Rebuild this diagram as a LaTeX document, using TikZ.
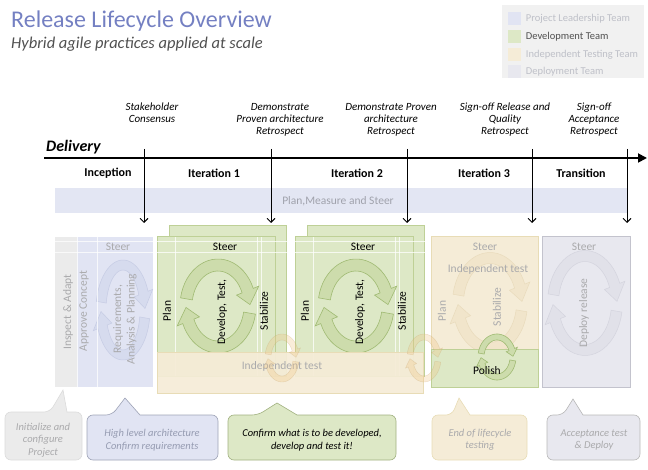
\documentclass[tikz,border=0pt]{standalone}
\usepackage{fontspec}
\setmainfont{Carlito}
\usetikzlibrary{arrows.meta,positioning}

\definecolor{titleblue}{RGB}{116,128,194}
\definecolor{subgray}{RGB}{80,80,80}
\definecolor{legendbg}{RGB}{241,241,241}
\definecolor{legfade}{RGB}{190,192,200}
\definecolor{planfill}{RGB}{227,230,243}
\definecolor{bandtext}{RGB}{160,162,172}
\definecolor{leadfill}{RGB}{225,228,243}
\definecolor{greyfill}{RGB}{235,235,235}
\definecolor{devfill}{RGB}{221,232,198}
\definecolor{devline}{RGB}{190,208,150}
\definecolor{cycfill}{RGB}{205,220,172}
\definecolor{cycline}{RGB}{160,186,115}
\definecolor{testfill}{RGB}{245,236,215}
\definecolor{testline}{RGB}{232,220,182}
\definecolor{depfill}{RGB}{232,232,239}
\definecolor{depline}{RGB}{195,195,205}
\definecolor{fadetext}{RGB}{170,170,172}
\definecolor{orangering}{RGB}{240,196,130}
\definecolor{leadcycfill}{RGB}{214,219,238}
\definecolor{leadcycline}{RGB}{198,204,228}
\definecolor{testcycfill}{RGB}{241,229,203}
\definecolor{testcycline}{RGB}{233,219,188}
\definecolor{depcycfill}{RGB}{225,225,233}
\definecolor{depcycline}{RGB}{212,212,222}
\definecolor{calltext}{RGB}{150,156,178}

% two curved arrows round an ellipse: centre x, centre y, x radius, y radius, band, style
\newcommand{\cyclearrows}[6]{%
  \pgfmathsetmacro\cyOx{#3+#5/2}\pgfmathsetmacro\cyOy{#4+#5/2}%
  \pgfmathsetmacro\cyIx{#3-#5/2}\pgfmathsetmacro\cyIy{#4-#5/2}%
  \pgfmathsetmacro\cyHx{#3+#5}\pgfmathsetmacro\cyHy{#4+#5}%
  \pgfmathsetmacro\cyJx{#3-#5}\pgfmathsetmacro\cyJy{#4-#5}%
  \foreach \s/\e/\h in {190/338/358, 10/158/178}{%
    \filldraw[#6] plot[domain=\s:\e,samples=24] ({#1+\cyOx*cos(\x)},{#2+\cyOy*sin(\x)})
      -- ({#1+\cyHx*cos(\e)},{#2+\cyHy*sin(\e)}) -- ({#1+#3*cos(\h)},{#2+#4*sin(\h)})
      -- ({#1+\cyJx*cos(\e)},{#2+\cyJy*sin(\e)})
      -- plot[domain=\e:\s,samples=24] ({#1+\cyIx*cos(\x)},{#2+\cyIy*sin(\x)}) -- cycle;
  }%
}

\begin{document}
\begin{tikzpicture}[x=1pt,y=-1pt,
  every node/.style={inner sep=1pt},
  mile/.style={font=\fontsize{11}{12}\selectfont\itshape, align=center, anchor=north},
  phase/.style={font=\fontsize{12}{14}\selectfont\bfseries},
  boxtext/.style={font=\fontsize{11.5}{13.5}\selectfont},
  side/.style={boxtext, rotate=90},
  faded/.style={text=fadetext},
  bubble/.style={font=\fontsize{10.5}{12.5}\selectfont\itshape, align=center},
  gridline/.style={white, line width=1pt, opacity=.75},
  devbox/.style={fill=devfill, draw=devline, line width=.6pt},
  testbox/.style={fill=testfill, draw=testline, line width=.6pt},
  depbox/.style={fill=depfill, draw=depline, line width=.6pt},
  devcyc/.style={fill=cycfill, draw=cycline, line width=.6pt},
  leadcyc/.style={fill=leadcycfill, draw=leadcycline, line width=.5pt},
  testcyc/.style={fill=testcycfill, draw=testcycline, line width=.5pt},
  polishcyc/.style={fill=cycfill, draw=cycline, line width=.6pt},
  depcyc/.style={fill=depcycfill, draw=depcycline, line width=.5pt},
  ringcyc/.style={fill=orangering, draw=orangering!80!black, opacity=.3},
  callgrey/.style={fill=greyfill, draw=black!14, line width=.6pt},
  calllead/.style={fill=leadfill, draw=leadcycline!80!black, line width=.6pt},
  calldev/.style={fill=devfill, draw=devline!85!black, line width=.6pt},
  calltest/.style={fill=testfill, draw=testline, line width=.6pt},
  calldep/.style={fill=depfill, draw=black!28, line width=.6pt}]
\useasboundingbox (0,0) rectangle (648,470);

% title and legend
\node[anchor=west, text=titleblue, font=\fontsize{24}{28}\selectfont] (title) at (10,21) {Release Lifecycle Overview};
\node[anchor=west, text=subgray, font=\fontsize{16.5}{19}\selectfont\itshape] (subtitle) at (10,44) {Hybrid agile practices applied at scale};
\fill[legendbg] (502,5) rectangle (644,78);
\foreach \y/\col/\tc/\txt in {19/leadfill/legfade/Project Leadership Team, 37/devfill/subgray/Development Team, 55/testfill/legfade/Independent Testing Team, 72/depfill/legfade/Deployment Team}{
  \node[fill=\col, minimum size=13, inner sep=0pt] (sw\y) at (514,\y) {};
  \node[right=5pt of sw\y, text=\tc, font=\fontsize{10.5}{12}\selectfont, inner sep=0pt] (lg\y) {\txt};
}

% milestones and time line
\node[mile] (ms1) at (152,102) {Stakeholder\\Consensus};
\node[mile] (ms2) at (280,102) {Demonstrate\\Proven architecture\\Retrospect};
\node[mile] (ms3) at (391,102) {Demonstrate Proven\\architecture\\Retrospect};
\node[mile] (ms4) at (505,102) {Sign-off Release and\\Quality\\Retrospect};
\node[mile] (ms5) at (594,102) {Sign-off\\Acceptance\\Retrospect};
\node[anchor=west, font=\fontsize{16}{18}\selectfont\bfseries\itshape] (delivery) at (45,147) {Delivery};
\coordinate (axisL) at (44,158);
\coordinate (axisR) at (647,158);
\draw[line width=1.8pt, -{Triangle[length=9pt,width=9pt]}] (axisL) -- (axisR);
\foreach \txt/\x in {Inception/108, Iteration 1/214, Iteration 2/357, Iteration 3/484, Transition/581}
  \node[phase] (ph\x) at (\x,173) {\txt};

% plan band
\fill[planfill] (55,188) rectangle (628,213);
\node[boxtext, text=bandtext] (plantxt) at (338,201) {Plan,Measure and Steer};

% inception
\fill[greyfill] (55,237) rectangle (77,387);
\fill[leadfill] (77,237) rectangle (153,387);
\cyclearrows{123}{310}{22}{45}{10}{leadcyc}
\draw[gridline] (77,237) -- (77,387) (97,237) -- (97,387);
\node[boxtext, faded] (steer0) at (118,247) {Steer};
\node[side, faded] (inspect) at (68,312) {Inspect \& Adapt};
\node[side, faded] (approve) at (84,311) {Approve Concept};
\node[side, faded, align=center] (reqs) at (125,319) {Requirements,\\Analysis \& Planning};

% iterations 1 and 2
\foreach \i/\bx in {1/157,2/295}{
  \draw[devbox] (\bx+12,225) rectangle (\bx+129,376);
  \draw[devbox] (\bx,236) rectangle (\bx+118,376);
  \draw[gridline] (\bx+18,237) -- (\bx+18,376) (\bx+100,237) -- (\bx+100,376) (\bx+104,237) -- (\bx+104,376);
  \cyclearrows{\bx+61}{306}{32}{41}{12}{devcyc}
  \node[boxtext] (steer\i) at (\bx+68,247) {Steer};
  \node[side] (plan\i) at (\bx+10,311) {Plan};
  \node[side] (dev\i) at (\bx+65,312) {Develop, Test,};
  \node[side] (stab\i) at (\bx+107,311) {Stabilize};
}
\draw[gridline] (55,242) -- (630,242) (55,253) -- (630,253);

% independent test band
\filldraw[testbox, fill opacity=.93] (157,352) rectangle (423,393);
\node[boxtext, faded] (indep) at (282,366) {Independent test};
\cyclearrows{282}{358}{14}{21}{6}{ringcyc}

% iteration 3
\filldraw[testbox] (431,236) rectangle (538,387);
\cyclearrows{490}{303}{32}{45}{11}{testcyc}
\filldraw[devbox] (431,349) rectangle (538,387);
\cyclearrows{497}{357}{16}{20}{6}{polishcyc}
\node[boxtext, faded] (steer3) at (485,247) {Steer};
\node[boxtext, faded] (indep3) at (488,269) {Independent test};
\node[side, faded] (plan3) at (442,311) {Plan};
\node[side, faded] (stab3) at (497,307) {Stabilize};
\node[boxtext] (polish) at (487,371) {Polish};
\cyclearrows{424}{358}{14}{21}{6}{ringcyc}

% transition
\filldraw[depbox] (542,236) rectangle (630,387);
\cyclearrows{585}{303}{32}{47}{11}{depcyc}
\node[boxtext, faded] (steer4) at (584,247) {Steer};
\node[side, faded] (deploy) at (584,313) {Deploy release};

% milestone arrows
\foreach \n/\x in {1/144,2/271,3/407,4/532,5/627}{
  \coordinate (top\n) at (\x,149);
  \coordinate (end\n) at (\x,223);
  \draw[line width=.9pt, -{Straight Barb[length=4pt,width=8pt]}] (top\n) -- (end\n);
}

% call-outs
\filldraw[callgrey] (5,436) [rounded corners=6] -- (5,412) -- (50,412) [sharp corners] -- (63,390) -- (67,412) [rounded corners=6] -- (82,412) -- (82,460) -- (5,460) -- cycle;
\node[bubble, faded] (c1) at (43,440) {Initialize and\\configure\\Project};
\filldraw[calllead] (87,437) [rounded corners=6] -- (87,415) -- (112,415) [sharp corners] -- (125,398) -- (140,415) [rounded corners=6] -- (218,415) -- (218,460) -- (87,460) -- cycle;
\node[bubble, text=calltext] (c2) at (152,440) {High level architecture\\Confirm requirements};
\filldraw[calldev] (228,437) [rounded corners=6] -- (228,415) -- (258,415) [sharp corners] -- (277,403) -- (297,415) [rounded corners=6] -- (396,415) -- (396,460) -- (228,460) -- cycle;
\node[bubble] (c3) at (312,440) {Confirm what is to be developed,\\develop and test it!};
\filldraw[calltest] (432,437) [rounded corners=6] -- (432,415) -- (452,415) [sharp corners] -- (459,398) -- (470,415) [rounded corners=6] -- (527,415) -- (527,460) -- (432,460) -- cycle;
\node[bubble, faded] (c4) at (480,440) {End of lifecycle\\testing};
\filldraw[calldep] (547,437) [rounded corners=6] -- (547,415) -- (563,415) [sharp corners] -- (573,399) -- (583,415) [rounded corners=6] -- (640,415) -- (640,460) -- (547,460) -- cycle;
\node[bubble, faded] (c5) at (594,440) {Acceptance test\\\& Deploy};
\end{tikzpicture}
\end{document}
